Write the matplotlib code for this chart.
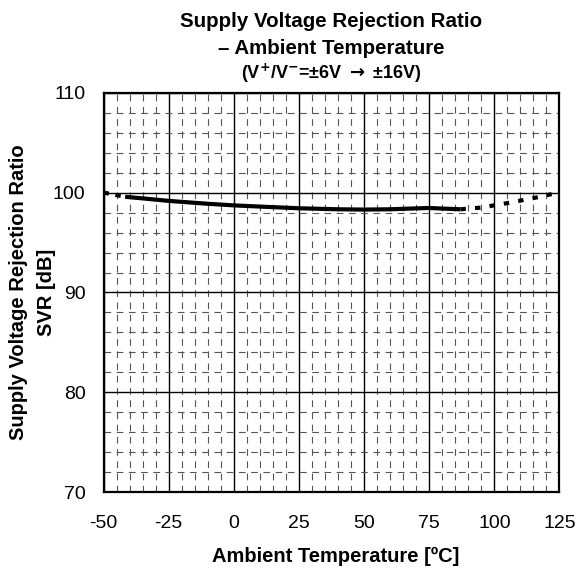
import matplotlib
matplotlib.use("Agg")
import matplotlib.pyplot as plt
from matplotlib.ticker import MultipleLocator

plt.rcParams['font.family'] = ['Liberation Sans', 'DejaVu Sans']
plt.rcParams['axes.unicode_minus'] = False

# measured curve (solid part)
temp_solid = [-41.7, -35, -25, -10, 0, 10, 25, 40, 50, 60, 70, 75, 80, 87]
svr_solid = [99.58, 99.42, 99.17, 98.88, 98.72, 98.6, 98.43, 98.33, 98.3, 98.33, 98.42, 98.46, 98.4, 98.33]

# extrapolated parts (dotted)
temp_left = [-50, -41.7]
svr_left = [100.0, 99.58]
temp_right = [87, 95, 105, 115, 122]
svr_right = [98.33, 98.5, 98.95, 99.45, 99.85]

x_ticks = [-50, -25, 0, 25, 50, 75, 100, 125]
y_ticks = [70, 80, 90, 100, 110]

fig = plt.figure(figsize=(5.79, 5.68), dpi=100)
ax = fig.add_axes([0.1788, 0.1333, 0.7875, 0.7035])

ax.set_xlim(-50, 125)
ax.set_ylim(70, 110)
ax.set_xticks(x_ticks)
ax.set_yticks(y_ticks)
ax.xaxis.set_minor_locator(MultipleLocator(5))
ax.yaxis.set_minor_locator(MultipleLocator(2))

ax.grid(which='major', color='black', linewidth=1.0)
ax.grid(which='minor', color='#555555', linewidth=0.8, linestyle=(0, (6, 5)))
ax.set_axisbelow(True)

for s in ax.spines.values():
    s.set_linewidth(1.6)
    s.set_color('black')

ax.tick_params(which='both', length=0)
ax.tick_params(axis='x', pad=16, labelsize=14)
ax.tick_params(axis='y', pad=13, labelsize=14)

ax.plot(temp_solid, svr_solid, color='black', linewidth=3, solid_capstyle='butt')
ax.plot(temp_left, svr_left, color='black', linewidth=3, linestyle=(0, (1.3, 1.6)))
ax.plot(temp_right, svr_right, color='black', linewidth=3, linestyle=(0, (1.3, 2.2)))

# axis labels placed by hand
fig.text(0.580, 0.0106, 'Ambient Temperature [ºC]', ha='center', va='baseline',
         fontsize=14.5, fontweight='bold')
fig.text(0.0415, 0.485, 'Supply Voltage Rejection Ratio', ha='center', va='baseline',
         rotation=90, rotation_mode='anchor', fontsize=14.5, fontweight='bold')
fig.text(0.0898, 0.485, 'SVR [dB]', ha='center', va='baseline',
         rotation=90, rotation_mode='anchor', fontsize=14.5, fontweight='bold')

fig.text(0.5725, 0.9525, 'Supply Voltage Rejection Ratio', ha='center', va='baseline',
         fontsize=14.8, fontweight='bold')
fig.text(0.5725, 0.9049, '– Ambient Temperature', ha='center', va='baseline',
         fontsize=14.8, fontweight='bold')
fig.text(0.5725, 0.861, r'(V$^{\mathbf{+}}$/V$^{\mathbf{-}}$=±6V $\mathbf{\rightarrow}$ ±16V)',
         ha='center', va='baseline', fontsize=13, fontweight='bold')

fig.savefig('out.png', dpi=100)
